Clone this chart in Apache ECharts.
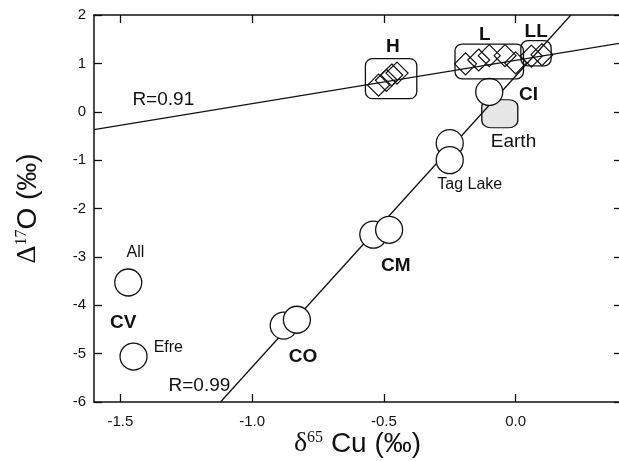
<!DOCTYPE html>
<html><head><meta charset="utf-8">
<script src="https://cdn.jsdelivr.net/npm/echarts@6/dist/echarts.min.js"></script>
<style>html,body{margin:0;padding:0;background:#fff}#c{width:619px;height:461px}</style>
</head><body><div id="c"></div>
<script>
// ---- data ----
const xTicks = [-1.5, -1.0, -0.5, 0.0];
const circleX = [-1.47, -1.45, -0.88, -0.83, -0.54, -0.48, -0.25, -0.25, -0.10];
const circleY = [-3.53, -5.06, -4.42, -4.30, -2.54, -2.44, -0.65, -1.00, 0.41];
const earthX = [-0.06];
const earthY = [-0.04];
const hX = [-0.52, -0.49, -0.47, -0.45];
const hY = [0.55, 0.65, 0.76, 0.80];
const lX = [-0.19, -0.14, -0.10, -0.04, 0.00];
const lY = [0.99, 1.07, 1.16, 1.16, 1.01];
const llX = [0.06, 0.10];
const llY = [1.15, 1.18];
const boxXmin = [-0.57, -0.23, 0.02];
const boxXmax = [-0.375, 0.03, 0.135];
const boxYmin = [0.27, 0.68, 0.95];
const boxYmax = [1.10, 1.40, 1.47];
const fit091X = [-1.6, 0.4];
const fit091Y = [-0.37, 1.42];
const fit099X = [-1.12, 0.21];
const fit099Y = [-6, 2];
const boldNames = ['H', 'L', 'LL', 'CI', 'CM', 'CO', 'CV'];
const boldX = [-0.466, -0.117, 0.078, 0.049, -0.455, -0.807, -1.489];
const boldY = [1.34, 1.59, 1.66, 0.35, -3.18, -5.06, -4.36];
const smallNames = ['All', 'Efre', 'Tag Lake'];
const smallX = [-1.443, -1.318, -0.174];
const smallY = [-2.91, -4.88, -1.51];
const largeNames = ['Earth', 'R=0.91', 'R=0.99'];
const largeX = [-0.008, -1.337, -1.20];
const largeY = [-0.62, 0.25, -5.66];

const zip = (a, b) => a.map((v, i) => [v, b[i]]);
const named = (n, a, b) => n.map((s, i) => ({ name: s, value: [a[i], b[i]] }));
const INK = '#111';
const SANS = '"Liberation Sans", Arial, Helvetica, sans-serif';
const SERIF = '"Liberation Serif", "Times New Roman", serif';

const chart = echarts.init(document.getElementById('c'), null, { renderer: 'canvas' });
const tickStyle = { color: INK, width: 1.3 };
const axisLine = { show: true, onZero: false, lineStyle: { color: INK, width: 1.5 } };
const labelSeries = (data, size, weight) => ({
  type: 'scatter', data, symbolSize: 0, silent: true, z: 10,
  itemStyle: { opacity: 1 },
  label: { show: true, position: 'inside', formatter: p => p.name, color: INK, opacity: 1,
    fontFamily: SANS, fontSize: size, fontWeight: weight }
});

chart.setOption({
  animation: false,
  backgroundColor: '#fff',
  grid: { left: 94, top: 15, width: 527, height: 387, containLabel: false, outerBoundsMode: 'none' },
  xAxis: [{
    type: 'value', min: -1.6, max: 0.4, position: 'bottom',
    axisLine,
    axisTick: { show: true, inside: true, length: 8, customValues: xTicks, lineStyle: tickStyle },
    axisLabel: { customValues: xTicks, formatter: v => v.toFixed(1), fontSize: 15, color: INK, fontFamily: SANS, margin: 12 },
    splitLine: { show: false },
    name: '{d|δ}{s|65}{t| Cu (‰)}', nameLocation: 'middle', nameGap: 28, nameMoveOverlap: false,
    nameTextStyle: { verticalAlign: 'top', rich: {
      d: { fontFamily: SERIF, fontSize: 28, color: INK },
      s: { fontFamily: SERIF, fontSize: 16, color: INK, verticalAlign: 'top', padding: [0, 0, 12, 0] },
      t: { fontFamily: SANS, fontSize: 28, color: INK } } }
  }, {
    type: 'value', min: -1.6, max: 0.4, position: 'top',
    axisLine,
    axisTick: { show: true, inside: true, length: 8, customValues: xTicks, lineStyle: tickStyle },
    axisLabel: { show: false }, splitLine: { show: false }
  }],
  yAxis: [{
    type: 'value', min: -6, max: 2, interval: 1, position: 'left',
    axisLine,
    axisTick: { show: true, inside: true, length: 8, lineStyle: tickStyle },
    axisLabel: { fontSize: 15, color: INK, fontFamily: SANS, margin: 8 },
    splitLine: { show: false },
    name: '{d|Δ}{s|17}{t|O (‰)}', nameLocation: 'middle', nameGap: 52, nameRotate: 90, nameMoveOverlap: false,
    nameTextStyle: { rich: {
      d: { fontFamily: SERIF, fontSize: 28, color: INK },
      s: { fontFamily: SERIF, fontSize: 16, color: INK, verticalAlign: 'top', padding: [0, 0, 12, 0] },
      t: { fontFamily: SANS, fontSize: 28, color: INK } } }
  }, {
    type: 'value', min: -6, max: 2, interval: 1, position: 'right',
    axisLine,
    axisTick: { show: true, inside: true, length: 7, lineStyle: tickStyle },
    axisLabel: { show: false }, splitLine: { show: false }
  }],
  series: [
    { type: 'scatter', data: zip(earthX, earthY), symbol: 'roundRect', symbolSize: [36, 28], z: 1,
      itemStyle: { color: '#e6e6e6', borderColor: INK, borderWidth: 1.2, opacity: 1 } },
    { type: 'line', data: zip(fit091X, fit091Y), symbol: 'none', z: 2,
      lineStyle: { color: INK, width: 1.3 } },
    { type: 'line', data: zip(fit099X, fit099Y), symbol: 'none', z: 2,
      lineStyle: { color: INK, width: 1.3 } },
    { type: 'scatter', data: zip(circleX, circleY), symbol: 'circle', symbolSize: 27, z: 3,
      itemStyle: { color: '#fff', borderColor: INK, borderWidth: 1.3, opacity: 1 } },
    { type: 'scatter', data: zip(hX, hY).concat(zip(lX, lY), zip(llX, llY)), symbol: 'diamond', symbolSize: 22, z: 4,
      itemStyle: { color: 'rgba(0,0,0,0)', borderColor: INK, borderWidth: 1.2, opacity: 1 } },
    { type: 'custom', z: 5, data: boxXmin.map((v, i) => [v, boxXmax[i], boxYmin[i], boxYmax[i]]),
      encode: { x: [0, 1], y: [2, 3] },
      renderItem: (params, api) => {
        const p1 = api.coord([api.value(0), api.value(3)]);
        const p2 = api.coord([api.value(1), api.value(2)]);
        return { type: 'rect', shape: { x: p1[0], y: p1[1], width: p2[0] - p1[0], height: p2[1] - p1[1], r: 7 },
          style: { fill: 'none', stroke: INK, lineWidth: 1.3 } };
      } },
    labelSeries(named(boldNames, boldX, boldY), 19, 'bold'),
    labelSeries(named(smallNames, smallX, smallY), 16, 'normal'),
    labelSeries(named(largeNames, largeX, largeY), 19, 'normal')
  ]
});
</script></body></html>
